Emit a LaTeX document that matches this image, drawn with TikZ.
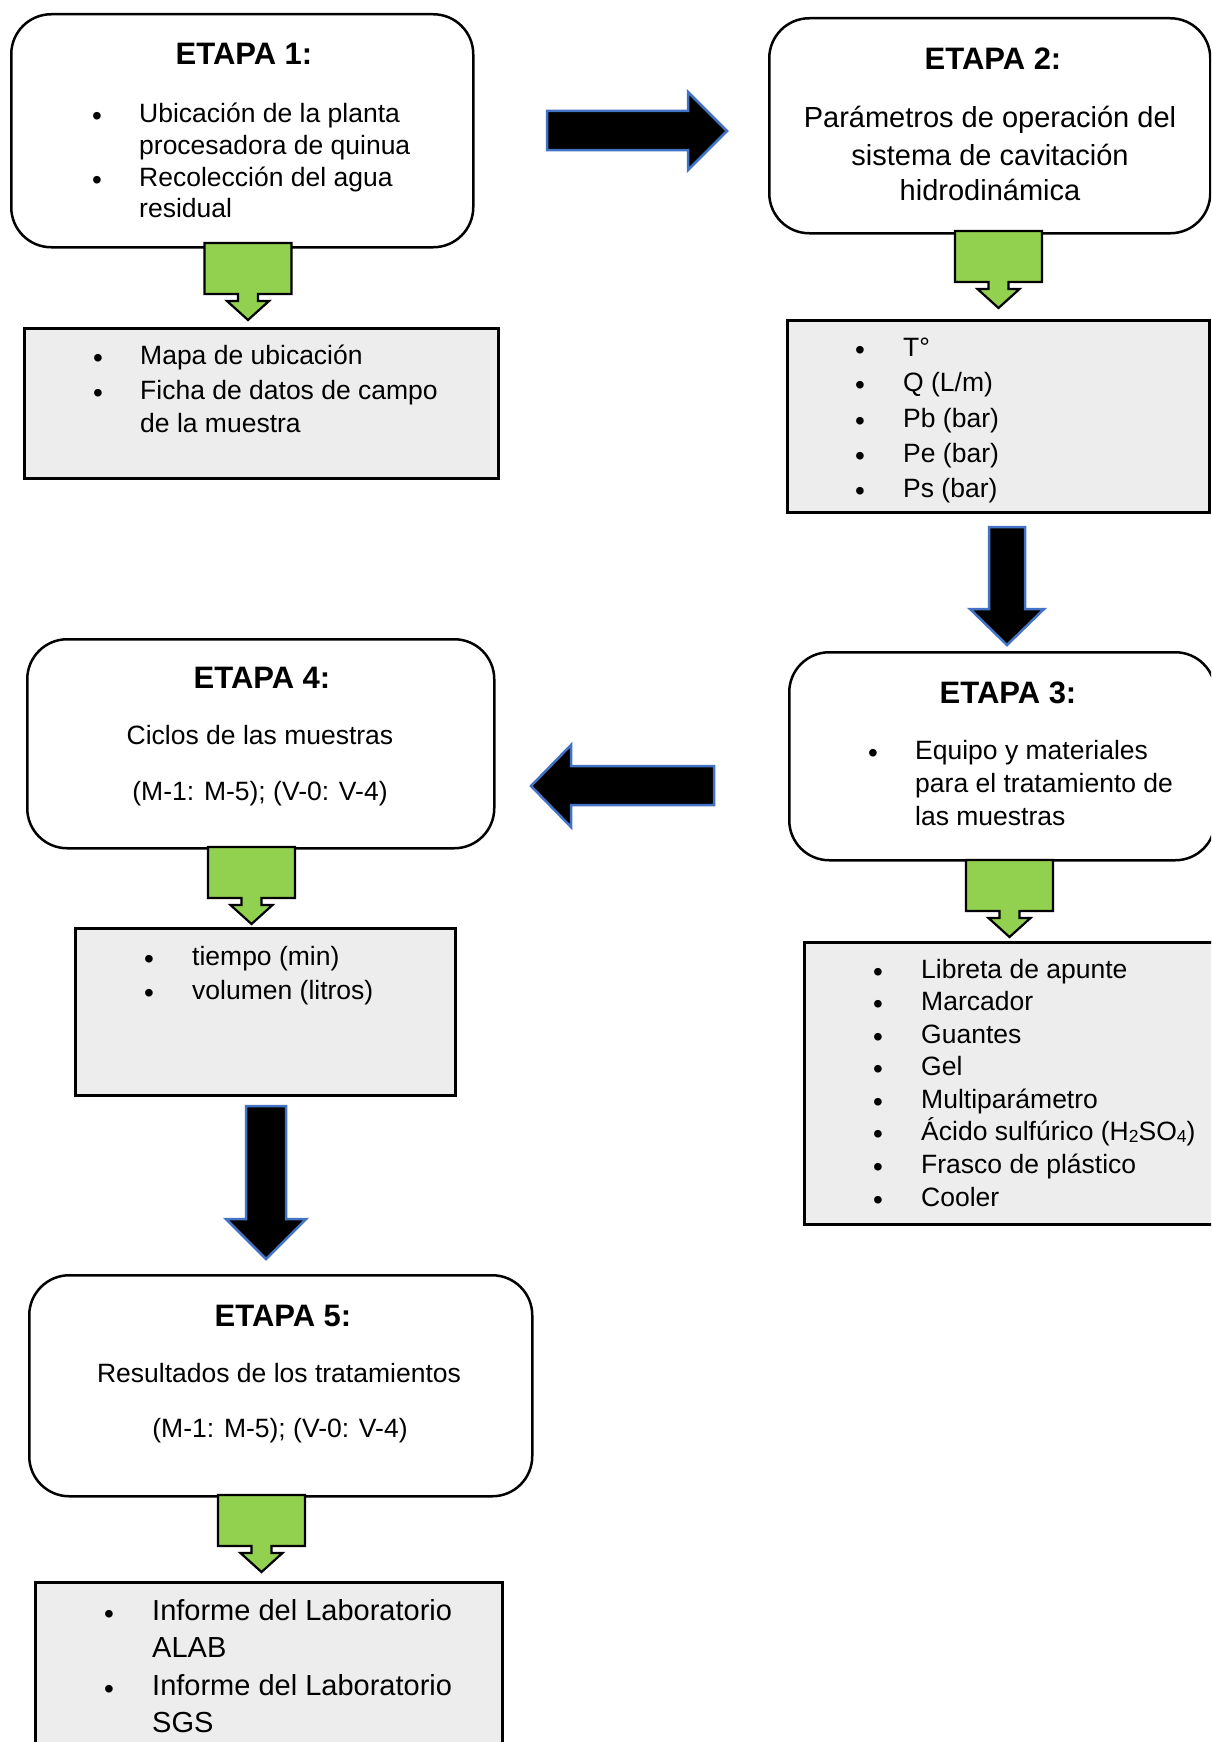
\documentclass[tikz,border=0pt]{standalone}
\usepackage{fontspec}
\setmainfont{Liberation Sans}
\definecolor{callgreen}{HTML}{92D050}
\definecolor{boxgray}{HTML}{EDEDED}
\definecolor{arrblue}{HTML}{4472C4}
\newcommand\mybul{\raisebox{-3pt}{\fontsize{28}{30}\selectfont •}}
\tikzset{
  stagebox/.style={draw=black, line width=2.5pt, rounded corners=40pt, fill=white, inner sep=0pt, anchor=north west},
  graybox/.style={draw=black, line width=2.5pt, fill=boxgray, inner sep=0pt, anchor=north west},
  blkarrow/.style={draw=arrblue, line width=2.5pt, fill=black, line join=miter},
  ttl/.style={font=\fontsize{31}{36}\selectfont\bfseries, inner sep=0pt, anchor=base},
  txt/.style={font=\fontsize{26.5}{32}\selectfont, inner sep=0pt, anchor=base west},
  ctxt/.style={font=\fontsize{26.5}{32}\selectfont, inner sep=0pt, anchor=base},
  bigtxt/.style={font=\fontsize{29}{36}\selectfont, inner sep=0pt, anchor=base west},
  bigctxt/.style={font=\fontsize{29}{36}\selectfont, inner sep=0pt, anchor=base},
  bul/.style={font=\fontsize{26.5}{32}\selectfont, inner sep=0pt, anchor=base},
  greencall/.pic={\draw[fill=callgreen, line width=2.2pt, line join=miter]
     (-43.5,0) -- (43.5,0) -- (43.5,51) -- (10,51) -- (10,58) -- (21,58) -- (0,77)
     -- (-21,58) -- (-10,58) -- (-10,51) -- (-43.5,51) -- cycle;}
}
\begin{document}
\begin{tikzpicture}[x=1pt,y=-1pt]
\useasboundingbox (0,0) rectangle (1211,1742);
\clip (0,0) rectangle (1211,1742);
\fill[white] (0,0) rectangle (1211,1742);

% ---- boxes ----
\node[stagebox, minimum width=462, minimum height=233] (e1) at (10,13) {};
\node[stagebox, minimum width=441, minimum height=215] (e2) at (768,17) {};
\node[stagebox, minimum width=426, minimum height=208] (e3) at (788,651) {};
\node[stagebox, minimum width=467, minimum height=209] (e4) at (26,638) {};
\node[stagebox, minimum width=503, minimum height=221] (e5) at (28,1274) {};
\node[graybox, minimum width=474, minimum height=150] (g1) at (23,327) {};
\node[graybox, minimum width=422, minimum height=192] (g2) at (786,319) {};
\node[graybox, minimum width=411, minimum height=282] (g3) at (803,941) {};
\node[graybox, minimum width=380, minimum height=167] (g4) at (74,927) {};
\node[graybox, minimum width=467, minimum height=180] (g5) at (34,1581) {};

% ---- green callout arrows ----
\pic (c1) at (248,243) {greencall};
\pic (c2) at (998.5,231) {greencall};
\pic (c3) at (1009.5,860) {greencall};
\pic (c4) at (251.5,847) {greencall};
\pic (c5) at (261.5,1495) {greencall};

% ---- black block arrows ----
\draw[blkarrow] (547,111) -- (688,111) -- (688,92) -- (727,131) -- (688,170) -- (688,150) -- (547,150) -- cycle;
\draw[blkarrow] (989,527) -- (1025,527) -- (1025,609) -- (1044,609) -- (1007,645) -- (970,609) -- (989,609) -- cycle;
\draw[blkarrow] (714,766) -- (571,766) -- (571,745) -- (531,786) -- (571,827) -- (571,805) -- (714,805) -- cycle;
\draw[blkarrow] (246,1106) -- (286,1106) -- (286,1219) -- (306,1219) -- (266,1259) -- (226,1219) -- (246,1219) -- cycle;

% ---- ETAPA 1 ----
\node[ttl] (t1) at (244,65) {ETAPA 1:};
\node[bul] (b1a) at (97,123) {\mybul};
\node[txt] (l1a) at (139,123) {Ubicación de la planta};
\node[txt] (l1b) at (139,154) {procesadora de quinua};
\node[bul] (b1b) at (97,186) {\mybul};
\node[txt] (l1c) at (139,186) {Recolección del agua};
\node[txt] (l1d) at (139,217) {residual};

\node[bul] (bg1a) at (98,364) {\mybul};
\node[txt] (g1a) at (140,364) {Mapa de ubicación};
\node[bul] (bg1b) at (98,399) {\mybul};
\node[txt] (g1b) at (140,399) {Ficha de datos de campo};
\node[txt] (g1c) at (140,432) {de la muestra};

% ---- ETAPA 2 ----
\node[ttl] (t2) at (993,70) {ETAPA 2:};
\node[bigctxt] (l2a) at (990,128) {Parámetros de operación del};
\node[bigctxt] (l2b) at (990,165) {sistema de cavitación};
\node[bigctxt] (l2c) at (990,200) {hidrodinámica};

\node[bul] (bg2a) at (860,356) {\mybul};
\node[txt] (g2a) at (903,356) {T°};
\node[bul] (bg2b) at (860,391) {\mybul};
\node[txt] (g2b) at (903,391) {Q (L/m)};
\node[bul] (bg2c) at (860,427) {\mybul};
\node[txt] (g2c) at (903,427) {Pb (bar)};
\node[bul] (bg2d) at (860,462) {\mybul};
\node[txt] (g2d) at (903,462) {Pe (bar)};
\node[bul] (bg2e) at (860,497) {\mybul};
\node[txt] (g2e) at (903,497) {Ps (bar)};

% ---- ETAPA 3 ----
\node[ttl] (t3) at (1008,703) {ETAPA 3:};
\node[bul] (b3a) at (873,759) {\mybul};
\node[txt] (l3a) at (915,759) {Equipo y materiales};
\node[txt] (l3b) at (915,792) {para el tratamiento de};
\node[txt] (l3c) at (915,825) {las muestras};

\node[bul] (bg3a) at (878,978) {\mybul};
\node[txt] (g3a) at (921,978) {Libreta de apunte};
\node[bul] (bg3b) at (878,1010) {\mybul};
\node[txt] (g3b) at (921,1010) {Marcador};
\node[bul] (bg3c) at (878,1043) {\mybul};
\node[txt] (g3c) at (921,1043) {Guantes};
\node[bul] (bg3d) at (878,1075) {\mybul};
\node[txt] (g3d) at (921,1075) {Gel};
\node[bul] (bg3e) at (878,1108) {\mybul};
\node[txt] (g3e) at (921,1108) {Multiparámetro};
\node[bul] (bg3f) at (878,1140) {\mybul};
\node[txt] (g3f) at (921,1140) {Ácido sulfúrico (H\raisebox{-2pt}{\fontsize{17.5}{18}\selectfont 2}SO\raisebox{-2pt}{\fontsize{17.5}{18}\selectfont 4})};
\node[bul] (bg3g) at (878,1173) {\mybul};
\node[txt] (g3g) at (921,1173) {Frasco de plástico};
\node[bul] (bg3h) at (878,1206) {\mybul};
\node[txt] (g3h) at (921,1206) {Cooler};

% ---- ETAPA 4 ----
\node[ttl] (t4) at (262,688) {ETAPA 4:};
\node[ctxt] (l4a) at (260,744) {Ciclos de las muestras};
\node[ctxt] (l4b) at (260,800) {(M-1: M-5); (V-0: V-4)};

\node[bul] (bg4a) at (149,965) {\mybul};
\node[txt] (g4a) at (192,965) {tiempo (min)};
\node[bul] (bg4b) at (149,999) {\mybul};
\node[txt] (g4b) at (192,999) {volumen (litros)};

% ---- ETAPA 5 ----
\node[ttl] (t5) at (283,1326) {ETAPA 5:};
\node[ctxt] (l5a) at (279,1382) {Resultados de los tratamientos};
\node[ctxt] (l5b) at (280,1437) {(M-1: M-5); (V-0: V-4)};

\node[bul] (bg5a) at (109,1620) {\mybul};
\node[bigtxt] (g5a) at (152,1620) {Informe del Laboratorio};
\node[bigtxt] (g5b) at (152,1657) {ALAB};
\node[bul] (bg5b) at (109,1695) {\mybul};
\node[bigtxt] (g5c) at (152,1695) {Informe del Laboratorio};
\node[bigtxt] (g5d) at (152,1732) {SGS};
\end{tikzpicture}
\end{document}
